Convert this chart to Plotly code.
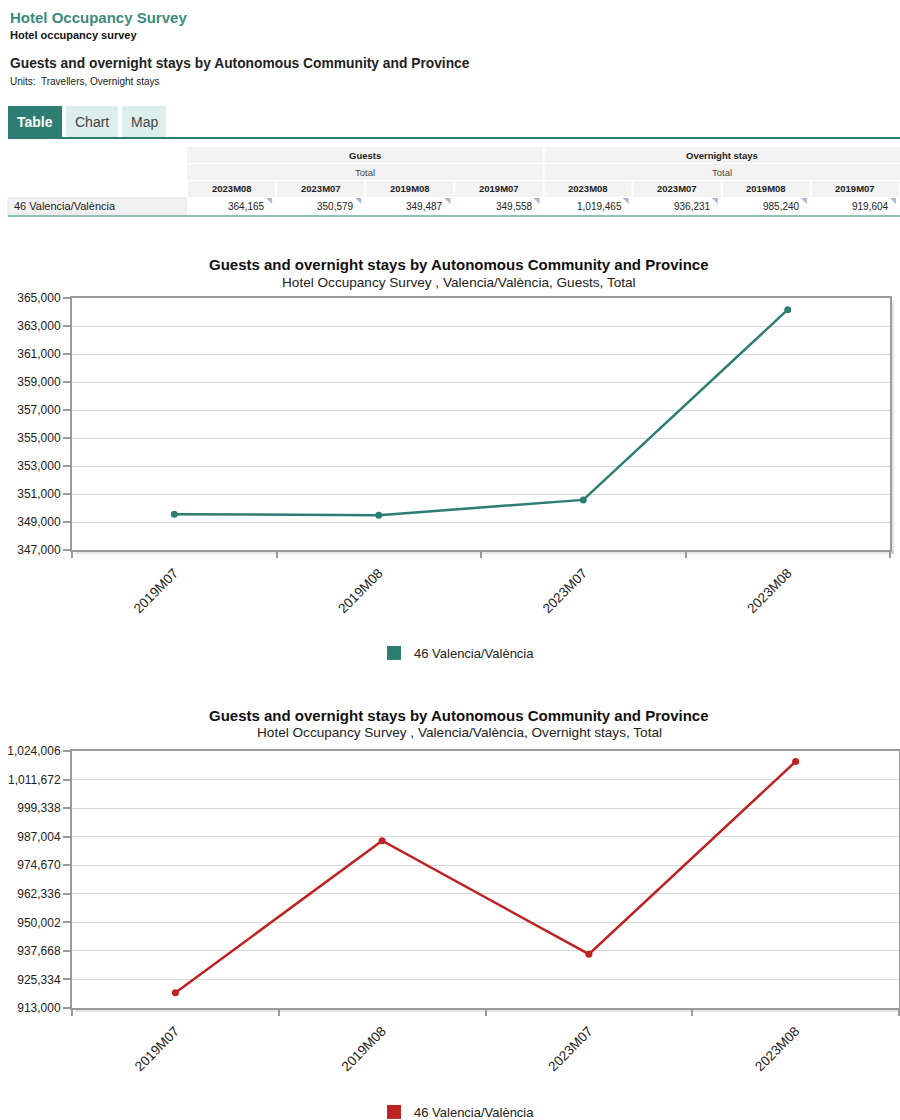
import plotly.graph_objects as go

W, H = 900, 1120

# ---- data ----
months = ["2019M07", "2019M08", "2023M07", "2023M08"]
guests = [349558, 349487, 350579, 364165]
overnight_stays = [919604, 985240, 936231, 1019465]
region = "46 Valencia/València"
table_months = ["2023M08", "2023M07", "2019M08", "2019M07"]
measures = ["Guests", "Overnight stays"]
guests_axis = [347000, 365000, 2000]       # start, end, step
stays_axis = [913000, 1024006, 12334]      # start, end, step

chart_title = "Guests and overnight stays by Autonomous Community and Province"
subtitles = ["Hotel Occupancy Survey , Valencia/València, Guests, Total",
             "Hotel Occupancy Survey , Valencia/València, Overnight stays, Total"]

TEAL = "#2e7d72"
RED = "#bf2222"
FONT = "Liberation Sans, Arial, Helvetica, sans-serif"


def fx(p):
    return p / W


def fy(p):
    return 1 - p / H


shapes = []
ann = []


def text(x, y, s, size, color="#222", bold=False, xanchor="left"):
    ann.append(dict(x=fx(x), y=fy(y), xref="paper", yref="paper",
                    text=f"<b>{s}</b>" if bold else s, showarrow=False,
                    xanchor=xanchor, yanchor="middle", borderpad=0,
                    font=dict(size=size, color=color, family=FONT)))


def rect(x0, y0, x1, y1, fill, line=None, lw=0):
    shapes.append(dict(type="rect", xref="paper", yref="paper",
                       x0=fx(x0), x1=fx(x1), y0=fy(y1), y1=fy(y0),
                       fillcolor=fill, line=dict(width=lw, color=line or fill),
                       layer="below"))


# ---- page header ----
text(9, 18, "Hotel Occupancy Survey", 15, "#3b8b80", bold=True)
text(9, 35, "Hotel occupancy survey", 11, "#111", bold=True)
text(9, 63, chart_title, 13.8, "#222", bold=True)
text(9, 82, "Units:\u00a0 Travellers, Overnight stays", 10, "#222")

# ---- tabs ----
rect(8, 106, 62, 138, TEAL)
text(35, 122, "Table", 14, "white", bold=True, xanchor="center")
rect(66, 106, 118, 138, "#dcefed")
text(92, 122, "Chart", 14, "#444", xanchor="center")
rect(122, 106, 166, 138, "#dcefed")
text(144, 122, "Map", 14, "#444", xanchor="center")
rect(8, 137, 900, 139, TEAL)

# ---- table ----
col0 = 187
cw = (900 - col0) / 8
series_by_measure = [dict(zip(months, guests)), dict(zip(months, overnight_stays))]
n = len(table_months)
for g, name in enumerate(measures):
    gx0 = col0 + g * n * cw + (1 if g else 0)
    gx1 = col0 + (g + 1) * n * cw - (1 if g == 0 else 0)
    rect(gx0, 147, gx1, 163, "#f3f3f3")
    rect(gx0, 164, gx1, 180, "#f3f3f3")
    text((gx0 + gx1) / 2, 155, name, 9.5, "#222", bold=True, xanchor="center")
    text((gx0 + gx1) / 2, 172, "Total", 9.5, "#444", xanchor="center")
    for j, m in enumerate(table_months):
        i = g * n + j
        cx0 = col0 + i * cw
        cx1 = cx0 + cw
        rect(cx0 + 1, 181, cx1 - 1, 197, "#f3f3f3")
        text((cx0 + cx1) / 2, 189, m, 9.5, "#222", bold=True, xanchor="center")
        text(cx1 - 10, 206, f"{series_by_measure[g][m]:,}", 10, "#222", xanchor="right")
        shapes.append(dict(type="path", xref="paper", yref="paper",
                           path=(f"M {fx(cx1 - 10)},{fy(198)} L {fx(cx1 - 4)},{fy(198)} "
                                 f"L {fx(cx1 - 4)},{fy(204)} Z"),
                           fillcolor="#a8b8d4", line=dict(width=0)))
rect(8, 198, 186, 214, "#f2f2f2", "#e2e2e2", 1)
text(13, 206, region, 11, "#222")
rect(8, 215, 900, 217, "#8ec0b6")

# ---- charts ----
charts = [
    dict(values=guests, color=TEAL, axis=guests_axis, x0=72, x1=890, top=298, bottom=550,
         title_y=265, legend_y=653),
    dict(values=overnight_stays, color=RED, axis=stays_axis, x0=72, x1=899, top=751, bottom=1008,
         title_y=715, legend_y=1112),
]

fig = go.Figure()
layout = {}
for k, c in enumerate(charts):
    sfx = "" if k == 0 else str(k + 1)
    xa, ya = "x" + sfx, "y" + sfx
    lg = "legend" + sfx
    fig.add_trace(go.Scatter(x=months, y=c["values"], mode="lines+markers",
                             line=dict(color=c["color"], width=2.5),
                             marker=dict(size=7, color=c["color"]),
                             name=region, showlegend=False, xaxis=xa, yaxis=ya))
    # legend swatch
    fig.add_trace(go.Scatter(x=[None], y=[None], mode="markers",
                             marker=dict(symbol="square", size=14, color=c["color"]),
                             name=region, showlegend=True, legend=lg, xaxis=xa, yaxis=ya))
    layout["xaxis" + sfx] = dict(
        domain=[fx(c["x0"]), fx(c["x1"])], anchor=ya, type="category",
        categoryorder="array", categoryarray=months, range=[-0.5, len(months) - 0.5],
        tickson="boundaries", ticks="outside", ticklen=6, tickcolor="#9a9a9a", tickwidth=1.5,
        tickangle=-45, ticklabelstandoff=8,
        showgrid=False, showline=True, linecolor="#9a9a9a", linewidth=2, mirror=True,
        tickfont=dict(size=13.5, color="#222", family=FONT), fixedrange=True)
    layout["yaxis" + sfx] = dict(
        domain=[fy(c["bottom"]), fy(c["top"])], anchor=xa,
        range=[c["axis"][0], c["axis"][1]], tick0=c["axis"][0], dtick=c["axis"][2],
        tickformat=",", ticks="outside", ticklen=7, tickcolor="#9a9a9a", tickwidth=1.5,
        showgrid=True, gridcolor="#dadada", gridwidth=1, zeroline=False,
        showline=True, linecolor="#9a9a9a", linewidth=2, mirror=True,
        tickfont=dict(size=12, color="#222", family=FONT), fixedrange=True)
    layout[lg] = dict(x=fx(374), y=fy(c["legend_y"]), xanchor="left", yanchor="middle",
                      orientation="h", bgcolor="rgba(0,0,0,0)",
                      font=dict(size=13, color="#222", family=FONT))
    # soft drop shadow along the right and bottom frame edges
    rect(c["x1"] + 1, c["top"] + 3, c["x1"] + 4, c["bottom"] + 4, "rgba(0,0,0,0.10)")
    rect(c["x0"] + 3, c["bottom"] + 1, c["x1"] + 4, c["bottom"] + 4, "rgba(0,0,0,0.10)")
    text(459, c["title_y"], chart_title, 15, "#111", bold=True, xanchor="center")
    text(459, c["title_y"] + 17, subtitles[k], 13.6, "#222", xanchor="center")

fig.update_layout(
    width=W, height=H,
    margin=dict(l=0, r=0, t=0, b=0, pad=0, autoexpand=False),
    paper_bgcolor="white", plot_bgcolor="white",
    font=dict(family=FONT, color="#222"),
    shapes=shapes, annotations=ann, hovermode="closest",
    **layout,
)

fig.write_html("out.html")
